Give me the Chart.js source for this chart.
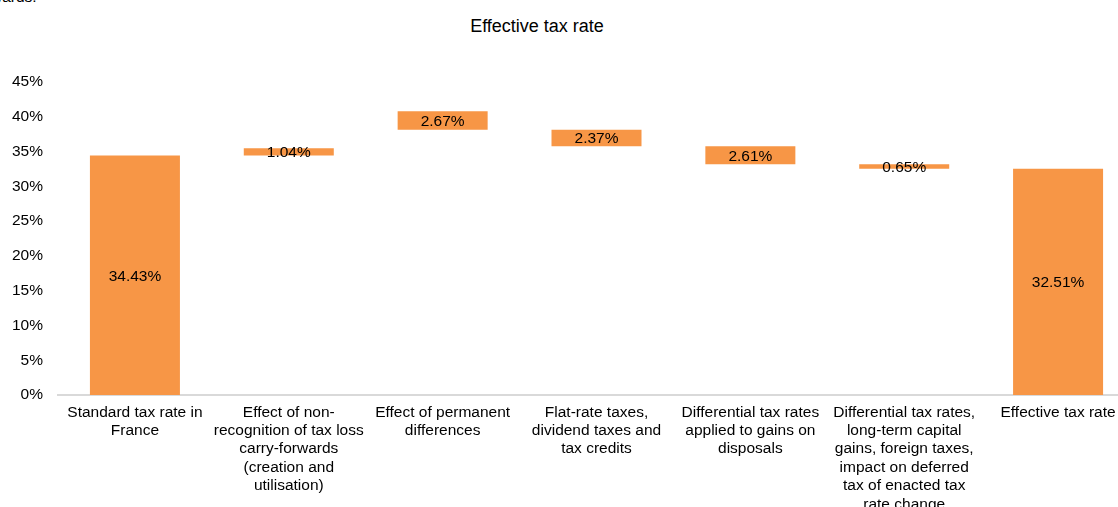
<!DOCTYPE html>
<html>
<head>
<meta charset="utf-8">
<script src="https://cdn.jsdelivr.net/npm/chart.js@4/dist/chart.umd.min.js"></script>
<style>
  html, body { margin: 0; padding: 0; background: #fff; overflow: hidden; }
  #wrap { position: relative; width: 1118px; height: 507px; overflow: hidden; }
  #chart { position: absolute; left: 0; top: 0; }
  .txt { position: absolute; font-family: "Liberation Sans", Arial, sans-serif; color: #000; white-space: nowrap; }
  #title { left: 537px; top: 16px; transform: translateX(-50%); font-size: 18px; }
  #clip { left: -9px; top: -12px; font-size: 15.5px; }
</style>
</head>
<body>
<div id="wrap">
  <div class="txt" id="clip">wards.</div>
  <div class="txt" id="title">Effective tax rate</div>
  <canvas id="chart" width="1140" height="507"></canvas>
</div>
<script>
const categories = [
  ["Standard tax rate in", "France"],
  ["Effect of non-", "recognition of tax loss", "carry-forwards", "(creation and", "utilisation)"],
  ["Effect of permanent", "differences"],
  ["Flat-rate taxes,", "dividend taxes and", "tax credits"],
  ["Differential tax rates", "applied to gains on", "disposals"],
  ["Differential tax rates,", "long-term capital", "gains, foreign taxes,", "impact on deferred", "tax of enacted tax", "rate change"],
  ["Effective tax rate"]
];
// floating bars: where each bar starts and ends (in %)
const barStart = [0, 34.43, 38.14, 35.77, 33.16, 32.51, 0];
const barEnd = [34.43, 35.47, 40.81, 38.14, 35.77, 33.16, 32.51];
const yTicks = [0, 5, 10, 15, 20, 25, 30, 35, 40, 45];

const FONT = "'Liberation Sans', Arial, sans-serif";
const ORANGE = "#F79646";

const barLabels = {
  id: "barLabels",
  afterDatasetsDraw(chart) {
    const ctx = chart.ctx;
    const meta = chart.getDatasetMeta(0);
    ctx.save();
    ctx.font = "15.5px " + FONT;
    ctx.fillStyle = "#000";
    ctx.textAlign = "center";
    ctx.textBaseline = "middle";
    meta.data.forEach((bar, i) => {
      const v = Math.abs(barEnd[i] - barStart[i]).toFixed(2) + "%";
      ctx.fillText(v, bar.x, (bar.y + bar.base) / 2 + 1);
    });
    ctx.restore();
  }
};

new Chart(document.getElementById("chart").getContext("2d"), {
  type: "bar",
  data: {
    labels: categories,
    datasets: [{
      data: barStart.map((s, i) => [s, barEnd[i]]),
      backgroundColor: ORANGE,
      borderWidth: 0,
      barPercentage: 0.585,
      categoryPercentage: 1
    }]
  },
  options: {
    responsive: false,
    animation: false,
    layout: { padding: { top: 82, right: 5, left: 0, bottom: 0 } },
    plugins: {
      legend: { display: false },
      title: { display: false },
      tooltip: { enabled: false }
    },
    scales: {
      x: {
        grid: { display: false, drawTicks: false },
        border: { display: true, color: "#d9d9d9", width: 2 },
        ticks: {
          color: "#000",
          font: { family: FONT, size: 15.5, lineHeight: 1.19 },
          padding: 8,
          maxRotation: 0,
          autoSkip: false
        },
        afterFit: (scale) => { scale.height = 112; }
      },
      y: {
        min: 0,
        max: 45,
        grid: { display: false, drawTicks: false },
        border: { display: false },
        afterBuildTicks: (scale) => { scale.ticks = yTicks.map(v => ({ value: v })); },
        ticks: {
          color: "#000",
          font: { family: FONT, size: 15.5 },
          padding: 15,
          callback: (v) => v + "%"
        },
        afterFit: (scale) => { scale.width = 58; }
      }
    }
  },
  plugins: [barLabels]
});
</script>
</body>
</html>
